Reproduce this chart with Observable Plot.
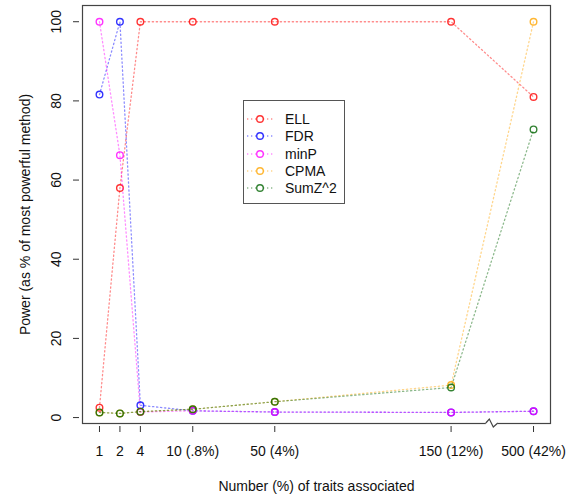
<!DOCTYPE html>
<html>
<head>
<meta charset="utf-8">
<script src="https://cdn.jsdelivr.net/npm/d3@7"></script>
<script src="https://cdn.jsdelivr.net/npm/@observablehq/plot@0.6"></script>
<style>
  html, body { margin: 0; padding: 0; background: #fff; }
  #wrap { position: relative; width: 566px; height: 496px; font-family: "Liberation Sans", Arial, sans-serif; }
  #legend { position: absolute; left: 243px; top: 100px; width: 102px; height: 104px; border: 1px solid #555; background: #fff; box-sizing: border-box; }
  .lg-row { position: absolute; left: 0; height: 16px; display: flex; align-items: center; font-size: 14px; color: #111; }
  .lg-row svg { margin-left: 3px; margin-right: 12px; }
</style>
</head>
<body>
<div id="wrap"></div>
<script>
// ---- data ----
const traitLabels = ["1", "2", "4", "10 (.8%)", "50 (4%)", "150 (12%)", "500 (42%)"];
const xPos = [1, 2, 3, 5.56, 9.57, 18.19, 22.22];
const methods = ["ELL", "FDR", "minP", "CPMA", "SumZ^2"];
const colors = ["#ff0000", "#0000ff", "#ff00ff", "#ffa500", "#006400"];
const ell  = [2.5, 58.0, 100, 100, 100, 100, 81.0];
const fdr  = [81.6, 100, 3.1, 1.7, 1.4, 1.3, 1.6];
const minP = [100, 66.3, 1.4, 1.7, 1.4, 1.3, 1.6];
const cpma = [1.3, 1.05, 1.5, 2.1, 4.0, 8.2, 100];
const sumZ = [1.3, 1.05, 1.5, 2.1, 4.0, 7.6, 72.8];
const yTicks = [0, 20, 40, 60, 80, 100];

const series = [ell, fdr, minP, cpma, sumZ];
const rows = methods.map((m, k) => series[k].map((v, i) => ({method: m, x: xPos[i], y: v})));

const lineMarks = [];
methods.forEach((m, k) => {
  lineMarks.push(Plot.line(rows[k], {x: "x", y: "y", stroke: colors[k], strokeWidth: 1.3,
    strokeDasharray: "1.3,2.7", strokeOpacity: 0.45}));
  lineMarks.push(Plot.dot(rows[k], {x: "x", y: "y", r: 3.3, stroke: colors[k], strokeWidth: 1.4,
    strokeOpacity: 0.8, fill: "none"}));
});

const breakMark = (index, scales, values, dimensions) => {
  const bx = scales.x((xPos[5] + xPos[6]) / 2);
  const by = dimensions.height - dimensions.marginBottom;
  const g = d3.create("svg:g");
  g.append("rect").attr("x", bx - 6).attr("y", by - 2).attr("width", 12).attr("height", 4).attr("fill", "#fff");
  g.append("path")
    .attr("d", `M${bx - 6},${by} L${bx - 2.5},${by - 4} L${bx + 1.5},${by + 4} L${bx + 6},${by}`)
    .attr("fill", "none").attr("stroke", "#444").attr("stroke-width", 1.2);
  return g.node();
};

const chart = Plot.plot({
  width: 566,
  height: 496,
  marginLeft: 82,
  marginRight: 16,
  marginTop: 5,
  marginBottom: 73,
  style: {fontFamily: "Liberation Sans, Arial, sans-serif", fontSize: "14px", color: "#111", background: "#fff"},
  x: {domain: [0.17, 23.05]},
  y: {domain: [-1.5, 104.1]},
  marks: [
    Plot.frame({stroke: "#444", strokeWidth: 1.2}),
    Plot.axisX({ticks: xPos, tickFormat: d => traitLabels[xPos.indexOf(d)], tickSize: 6, dy: 3, tickPadding: 14, label: null, stroke: "#333"}),
    Plot.axisY({ticks: yTicks, tickSize: 6, dx: -3, tickPadding: 13, tickRotate: -90, label: null, stroke: "#333"}),
    ...lineMarks,
    breakMark,
    Plot.text(["Number (%) of traits associated"], {frameAnchor: "bottom", dy: 63, lineAnchor: "middle", textAnchor: "middle", fontSize: 14, fill: "#111"}),
    Plot.text(["Power (as % of most powerful method)"], {frameAnchor: "left", dx: -57, rotate: -90, lineAnchor: "middle", textAnchor: "middle", fontSize: 14, fill: "#111"})
  ]
});

const wrap = document.getElementById("wrap");
wrap.appendChild(chart);

// legend
const legend = document.createElement("div");
legend.id = "legend";
methods.forEach((m, k) => {
  const row = document.createElement("div");
  row.className = "lg-row";
  row.style.top = (10 + k * 17.3) + "px";
  const svg = d3.create("svg").attr("width", 26).attr("height", 16);
  svg.append("line").attr("x1", 0).attr("x2", 26).attr("y1", 8).attr("y2", 8)
    .attr("stroke", colors[k]).attr("stroke-width", 1.3).attr("stroke-dasharray", "1.3,2.7").attr("stroke-opacity", 0.45);
  svg.append("circle").attr("cx", 13).attr("cy", 8).attr("r", 3.3).attr("fill", "#fff")
    .attr("stroke", colors[k]).attr("stroke-width", 1.4).attr("stroke-opacity", 0.8);
  row.appendChild(svg.node());
  const span = document.createElement("span");
  span.textContent = m;
  row.appendChild(span);
  legend.appendChild(row);
});
wrap.appendChild(legend);
</script>
</body>
</html>
